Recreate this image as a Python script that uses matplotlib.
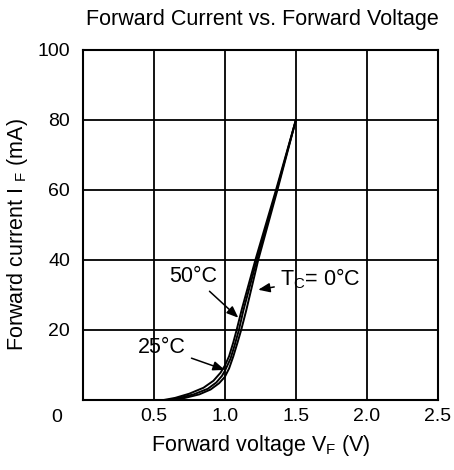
import matplotlib
matplotlib.use("Agg")
import matplotlib.pyplot as plt

plt.rcParams['font.family'] = ['Liberation Sans', 'DejaVu Sans']

# Data (V in volts, I in mA)
v_50 = [0.57, 0.65, 0.75, 0.85, 0.92, 0.97, 1.00, 1.03, 1.06, 1.083, 1.12, 1.215, 1.36, 1.50]
i_50 = [0.0, 0.6, 1.8, 3.5, 5.5, 7.8, 9.8, 12.5, 16.5, 20.0, 26.0, 40.0, 60.0, 80.0]

v_25 = [0.60, 0.68, 0.78, 0.88, 0.94, 0.98, 1.00, 1.04, 1.07, 1.099, 1.13, 1.225, 1.365, 1.50]
i_25 = [0.0, 0.6, 1.6, 3.2, 5.0, 6.9, 8.3, 11.8, 15.8, 20.0, 25.5, 40.0, 60.0, 80.0]

v_0 = [0.63, 0.72, 0.82, 0.90, 0.96, 1.00, 1.03, 1.06, 1.09, 1.115, 1.15, 1.235, 1.37, 1.50]
i_0 = [0.0, 0.6, 1.6, 3.0, 4.8, 6.6, 9.0, 12.5, 16.5, 20.0, 25.5, 40.0, 60.0, 80.0]

x_ticks = [0, 0.5, 1.0, 1.5, 2.0, 2.5]
x_ticklabels = ['', '0.5', '1.0', '1.5', '2.0', '2.5']
y_ticks = [0, 20, 40, 60, 80, 100]
y_ticklabels = ['', '20', '40', '60', '80', '100']

fig = plt.figure(figsize=(4.54, 4.70), dpi=100)
ax = fig.add_axes([82.7/454, 70/470, (438-82.7)/454, 350/470])

for v, i in [(v_50, i_50), (v_25, i_25), (v_0, i_0)]:
    ax.plot(v, i, color='black', lw=1.4, solid_joinstyle='round')

ax.set_xlim(0, 2.5)
ax.set_ylim(0, 100)
ax.set_xticks(x_ticks)
ax.set_xticklabels(x_ticklabels)
ax.set_yticks(y_ticks)
ax.set_yticklabels(y_ticklabels)
ax.tick_params(length=0, labelsize=14, colors='black')
ax.tick_params(axis='x', pad=6)
ax.tick_params(axis='y', pad=9)
ax.grid(True, color='black', lw=1.3)
for s in ax.spines.values():
    s.set_linewidth(1.5)
    s.set_color('black')

ax.text(-0.072, -0.049, '0', transform=ax.transAxes, ha='center', va='center', fontsize=14)

arrow = dict(arrowstyle='-|>,head_length=0.45,head_width=0.18', color='black', lw=1.1,
             shrinkA=2, shrinkB=0)
ax.annotate('50°C', xy=(1.095, 23.5), xytext=(0.776, 35.4), ha='center', va='center',
            fontsize=15.5, arrowprops=arrow)
ax.annotate('25°C', xy=(1.0, 8.6), xytext=(0.559, 14.9), ha='center', va='center',
            fontsize=15.5, arrowprops=arrow)
ax.annotate('T$_\\mathregular{C}$= 0°C', xy=(1.235, 31.5), xytext=(1.67, 34.6), ha='center',
            va='center', fontsize=15.5, arrowprops=arrow)

fig.text(262/454, 1 - 19/470, 'Forward Current vs. Forward Voltage', ha='center', va='center',
         fontsize=15.5)
fig.text(261/454, 1 - 445/470, 'Forward voltage V$_\\mathregular{F}$ (V)', ha='center',
         va='center', fontsize=15.5)
fig.text(18/454, 1 - 235/470, 'Forward current I $_\\mathregular{F}$ (mA)', ha='center',
         va='center', fontsize=15.5, rotation=90)

fig.savefig('out.png', dpi=100)
